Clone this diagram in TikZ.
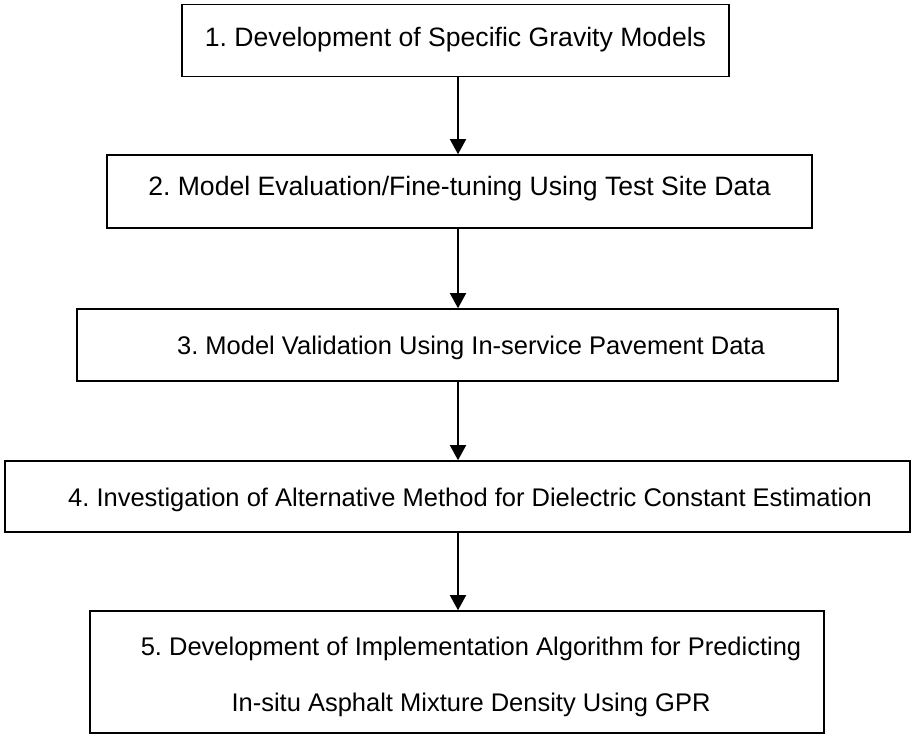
\documentclass[tikz,border=0pt]{standalone}
\usepackage{fontspec}
\setmainfont{Liberation Sans}
\usetikzlibrary{arrows.meta}
\frenchspacing
\begin{document}
\begin{tikzpicture}[x=1pt,y=-1pt,
  boxtext/.style={align=center,inner sep=0pt,font=\fontsize{25.5}{56}\selectfont},
  bigtext/.style={boxtext,font=\fontsize{26.6}{56}\selectfont},
  stepbox/.style={draw=black,line width=1.6pt,rectangle,inner sep=0pt},
  arr/.style={line width=1.6pt,-{Triangle[length=15pt,width=16pt]}}]
\useasboundingbox (0,0) rectangle (912,734);
\node[stepbox,minimum width=547pt,minimum height=72pt] (b1) at (455.5,40.5) {};
\node[stepbox,minimum width=705pt,minimum height=73pt] (b2) at (459.5,191.5) {};
\node[stepbox,minimum width=761pt,minimum height=72pt] (b3) at (457.5,345) {};
\node[stepbox,minimum width=905pt,minimum height=71pt] (b4) at (457.5,496.5) {};
\node[stepbox,minimum width=734pt,minimum height=122pt] (b5) at (457,672) {};
\node[bigtext] (t1) at (455.5,39.5) {1. Development of Specific Gravity Models};
\node[bigtext] (t2) at (459.5,188.5) {2. Model Evaluation/Fine-tuning Using Test Site Data};
\node[boxtext] (t3) at (471,347.5) {3. Model Validation Using In-service Pavement Data};
\node[boxtext] (t4) at (470,500) {4. Investigation of Alternative Method for Dielectric Constant Estimation};
\node[boxtext] (t5) at (471,677) {5. Development of Implementation Algorithm for Predicting\\In-situ Asphalt Mixture Density Using GPR};
\coordinate (ax) at (458,0);
\draw[arr] (b1.south -| ax) -- (b2.north -| ax);
\draw[arr] (b2.south -| ax) -- (b3.north -| ax);
\draw[arr] (b3.south -| ax) -- (b4.north -| ax);
\draw[arr] (b4.south -| ax) -- (b5.north -| ax);
\end{tikzpicture}
\end{document}
